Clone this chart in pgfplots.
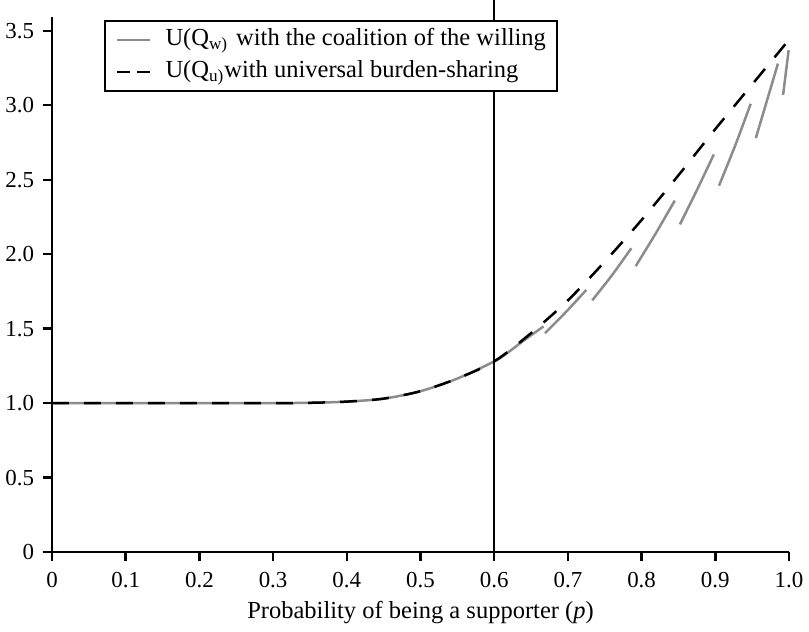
\documentclass[border=0pt]{standalone}
\usepackage{pgfplots}
\pgfplotsset{compat=1.18}
\usepackage{fontspec}
\setmainfont{Liberation Serif}
\definecolor{lgray}{RGB}{140,140,140}
\begin{document}
\begin{tikzpicture}
\useasboundingbox (-26bp,-40bp) rectangle (378.5bp,276bp);
\begin{axis}[
  at={(0,0)}, anchor=south west,
  scale only axis,
  width=368.5bp, height=267.5bp,
  xmin=0, xmax=1, ymin=0, ymax=3.593,
  axis lines=left,
  axis line style={-, line width=1.35bp},
  clip=false,
  xtick={0,0.1,0.2,0.3,0.4,0.5,0.6,0.7,0.8,0.9,1.0},
  xticklabels={0,0.1,0.2,0.3,0.4,0.5,0.6,0.7,0.8,0.9,1.0},
  ytick={0,0.5,1,1.5,2,2.5,3,3.5},
  yticklabels={0,0.5,1.0,1.5,2.0,2.5,3.0,3.5},
  tick align=outside,
  major tick length=4.5bp,
  tick style={black, line width=1.2bp},
  tick label style={font=\fontsize{11.5}{13}\selectfont},
  xticklabel style={yshift=-2bp},
  yticklabel style={xshift=-1bp},
  /pgf/number format/assume math mode=true,
  xlabel={Probability of being a supporter (\textit{p})},
  xlabel style={font=\fontsize{12.3}{14}\selectfont, at={(axis description cs:0.5,0)}, anchor=base, yshift=-33bp},
  legend style={at={(rel axis cs:0.0706,0.9944)}, anchor=north west, draw=black, line width=1bp,
    font=\fontsize{12.3}{14}\selectfont, inner xsep=5.5bp, inner ysep=3.5bp, row sep=4bp, column sep=7bp,
    nodes={inner sep=0pt, text height=9bp, text depth=3bp}},
  legend image code/.code={\draw[#1, line width=1.25bp] (0bp,0bp) -- (16.5bp,0bp);},
  legend cell align=left,
]
\addplot[lgray, line width=1.25bp, smooth] coordinates {
(0,1) (0.1,1) (0.2,1) (0.3,1) (0.35,1.002) (0.4,1.01) (0.45,1.03) (0.5,1.08) (0.55,1.165) (0.6,1.28) (0.62,1.345) (0.64,1.42) (0.667,1.515)};
\addlegendentry{U(Q\textsubscript{w)}\hspace{4bp}with the coalition of the willing\hspace{5bp}}
\addplot[black, line width=1.25bp, dash pattern=on 8.5bp off 7.5bp, smooth,
  legend image code/.code={\draw[black, line width=1.25bp, dash pattern=on 6.5bp off 3.5bp] (0bp,0bp) -- (16.5bp,0bp);}] coordinates {
(0,1) (0.1,1) (0.2,1) (0.3,1) (0.35,1.002) (0.4,1.01) (0.45,1.03) (0.5,1.08) (0.55,1.165) (0.6,1.28) (0.65,1.47) (0.7,1.69) (0.75,1.95) (0.8,2.23) (0.85,2.53) (0.9,2.84) (0.95,3.14) (1.0,3.44)};
\addlegendentry{U(Q\textsubscript{u)}with universal burden-sharing}
\addplot[lgray, line width=1.25bp, smooth, forget plot] coordinates {(0.669,1.47) (0.697,1.61) (0.725,1.76)};
\addplot[lgray, line width=1.25bp, smooth, forget plot] coordinates {(0.733,1.69) (0.76,1.86) (0.786,2.04)};
\addplot[lgray, line width=1.25bp, smooth, forget plot] coordinates {(0.792,1.92) (0.818,2.13) (0.845,2.36)};
\addplot[lgray, line width=1.25bp, smooth, forget plot] coordinates {(0.852,2.20) (0.875,2.43) (0.898,2.67)};
\addplot[lgray, line width=1.25bp, smooth, forget plot] coordinates {(0.905,2.46) (0.927,2.73) (0.948,3.01)};
\addplot[lgray, line width=1.25bp, smooth, forget plot] coordinates {(0.955,2.78) (0.970,3.03) (0.985,3.28)};
\addplot[lgray, line width=1.25bp, forget plot] coordinates {(0.992,3.07) (0.9995,3.37)};
\addplot[black, line width=1.1bp, forget plot] coordinates {(0.6,0) (0.6,3.8)};
\end{axis}
\end{tikzpicture}
\end{document}
